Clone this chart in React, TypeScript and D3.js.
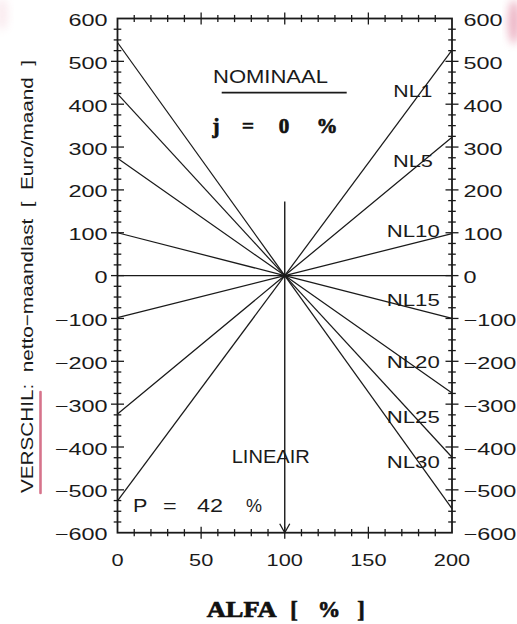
import React from "react";
import * as d3 from "d3";

// ---- data ----
const alfa = [0, 100, 200];
const seriesNames = ["NL1", "NL5", "NL10", "NL15", "NL20", "NL25", "NL30"];
const nl1 = [-526, 0, 526];
const nl5 = [-323, 0, 323];
const nl10 = [-98, 0, 98];
const nl15 = [100, 0, -100];
const nl20 = [274, 0, -274];
const nl25 = [424, 0, -424];
const nl30 = [544, 0, -544];
const nominaal = [0, 0, 0];
const lineairAlfa = 100;
const lineairRange = [173, -600];
const xTickLabels = [0, 50, 100, 150, 200];
const yTickLabels = [-600, -500, -400, -300, -200, -100, 0, 100, 200, 300, 400, 500, 600];
const seriesValues = [nl1, nl5, nl10, nl15, nl20, nl25, nl30];

const W = 517;
const H = 624;
const L = 117.5, R = 452, T = 18.5, B = 532.7;

const FONT = "'Liberation Sans', Arial, sans-serif";
const SERIF = "'Liberation Serif', 'Times New Roman', serif";

export default function App() {
  const x = d3.scaleLinear().domain([0, 200]).range([L, R]);
  const y = d3.scaleLinear().domain([-600, 600]).range([B, T]);
  const line = d3
    .line<number>()
    .x((_, i) => x(alfa[i]))
    .y((d) => y(d));

  const xMinor = d3.range(10, 200, 10);
  const yMinor = d3.range(-575, 600, 25);
  const ink = "#1a1a1a";

  const labelPos: Record<string, [number, number, number]> = {
    NL1: [164.9, 417, 39],
    NL5: [164.7, 254, 40],
    NL10: [161, 89, 53],
    NL15: [161, -72, 53],
    NL20: [161, -216, 53],
    NL25: [161, -343, 53],
    NL30: [161, -450, 53],
  };

  const tickText = (s: number) => (s < 0 ? "\u2212" + Math.abs(s) : String(s));

  return (
    <svg
      width={W}
      height={H}
      style={{ position: "absolute", left: 0, top: 0, background: "#fff" }}
      fontFamily={FONT}
    >
      <defs>
        <filter id="blur" x="-50%" y="-50%" width="200%" height="200%">
          <feGaussianBlur stdDeviation="4" />
        </filter>
      </defs>
      <rect width={W} height={H} fill="#fff" />
      {/* scan artifacts */}
      <ellipse cx={514} cy={22} rx={6} ry={22} fill="#e0809c" opacity={0.6} filter="url(#blur)" />
      <ellipse cx={2} cy={14} rx={6} ry={16} fill="#f0c4d0" opacity={0.35} filter="url(#blur)" />
      <line x1={40.5} x2={40.5} y1={392} y2={493} stroke="#d2647f" strokeWidth={2.6} strokeLinecap="round" opacity={0.9} />

      {/* series lines */}
      <path d={line(nominaal) || ""} fill="none" stroke={ink} strokeWidth={1.3} />
      {seriesValues.map((v, i) => (
        <path key={seriesNames[i]} d={line(v) || ""} fill="none" stroke={ink} strokeWidth={1.25} />
      ))}

      {/* LINEAIR arrow */}
      <line x1={x(lineairAlfa)} x2={x(lineairAlfa)} y1={y(lineairRange[0])} y2={y(lineairRange[1])} stroke={ink} strokeWidth={1.4} />
      <polyline
        points={`${x(lineairAlfa) - 5},${y(lineairRange[1]) - 9} ${x(lineairAlfa)},${y(lineairRange[1])} ${x(lineairAlfa) + 5},${y(lineairRange[1]) - 9}`}
        fill="none"
        stroke={ink}
        strokeWidth={1.3}
      />

      {/* frame */}
      <rect x={L} y={T} width={R - L} height={B - T} fill="none" stroke={ink} strokeWidth={1.8} />

      {/* x ticks top & bottom */}
      {xMinor.map((t) => {
        const len = t % 50 === 0 ? 6 : 3.6;
        return (
          <g key={"xt" + t} stroke={ink} strokeWidth={1.3}>
            <line x1={x(t)} x2={x(t)} y1={T - len} y2={T + len} />
            <line x1={x(t)} x2={x(t)} y1={B - len} y2={B + len} />
          </g>
        );
      })}
      {/* y ticks left & right */}
      {yMinor.map((t) => {
        const len = t % 100 === 0 ? 6.5 : 3.8;
        return (
          <g key={"yt" + t} stroke={ink} strokeWidth={1.3}>
            <line x1={L - len} x2={L + len} y1={y(t)} y2={y(t)} />
            <line x1={R - len} x2={R + len} y1={y(t)} y2={y(t)} />
          </g>
        );
      })}

      {/* y tick labels */}
      {yTickLabels.map((t) => (
        <g key={"yl" + t} fontSize={16.5} fill={ink}>
          <text transform={`translate(107.5,${y(t) + 7.5}) scale(1.42,1)`} textAnchor="end">
            {tickText(t)}
          </text>
          <text transform={`translate(463.5,${y(t) + 7.5}) scale(1.42,1)`} textAnchor="start">
            {tickText(t)}
          </text>
        </g>
      ))}
      {/* x tick labels */}
      {xTickLabels.map((t) => (
        <text
          key={"xl" + t}
          transform={`translate(${x(t)},566) scale(1.32,1)`}
          textAnchor="middle"
          fontSize={16.5}
          fill={ink}
        >
          {t}
        </text>
      ))}

      {/* series labels */}
      {seriesNames.map((n) => {
        const [a, v, w] = labelPos[n];
        return (
          <text
            key={"lab" + n}
            x={x(a)}
            y={y(v)}
            fontSize={16}
            textLength={w}
            lengthAdjust="spacingAndGlyphs"
            fill={ink}
          >
            {n}
          </text>
        );
      })}

      {/* annotations */}
      <text x={213} y={83.3} fontSize={18.5} textLength={115} lengthAdjust="spacingAndGlyphs" fill={ink}>
        NOMINAAL
      </text>
      <line x1={221.7} x2={346.7} y1={92.7} y2={92.7} stroke={ink} strokeWidth={1.8} />
      <g fontFamily={SERIF} fontWeight="bold" fontSize={21} fill="#111" stroke="#111" strokeWidth={0.7}>
        <text x={216} y={132.5} textAnchor="middle">j</text>
        <text x={248} y={132.5} textAnchor="middle">=</text>
        <text x={284} y={132.5} textAnchor="middle">0</text>
        <text x={327} y={132.5} textAnchor="middle">%</text>
      </g>
      <text x={231.7} y={463.3} fontSize={18} textLength={78} lengthAdjust="spacingAndGlyphs" fill={ink}>
        LINEAIR
      </text>
      <g fontSize={18} fill={ink}>
        <text transform="translate(133,511.7) scale(1.2,1)">P</text>
        <text transform="translate(163,511.7) scale(1.3,1)">=</text>
        <text transform="translate(197,511.7) scale(1.3,1)">42</text>
        <text transform="translate(246,511.7) scale(1.0,1)">%</text>
      </g>

      {/* axis titles */}
      <text
        transform="translate(33,276.5) rotate(-90)"
        textAnchor="middle"
        fontSize={17}
        textLength={433}
        lengthAdjust="spacingAndGlyphs"
        fill={ink}
        style={{ whiteSpace: "pre" }}
      >
        {"VERSCHIL:  netto\u2212maandlast  [  Euro/maand  ]"}
      </text>
      <g fontFamily={SERIF} fontWeight="bold" fontSize={22.5} fill="#111" stroke="#111" strokeWidth={0.7}>
        <text x={206.7} y={616.7} textLength={70} lengthAdjust="spacingAndGlyphs">ALFA</text>
        <text x={294} y={616.7} textAnchor="middle">[</text>
        <text x={329} y={616.7} textAnchor="middle">%</text>
        <text x={361} y={616.7} textAnchor="middle">]</text>
      </g>
    </svg>
  );
}
